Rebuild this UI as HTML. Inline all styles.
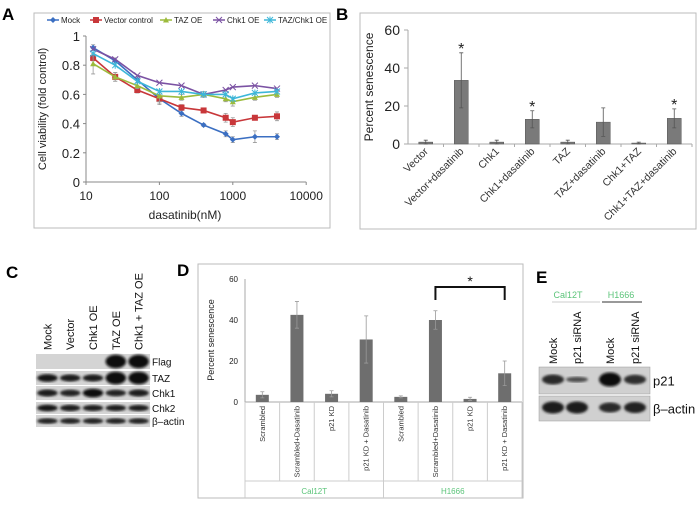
<!DOCTYPE html>
<html><head><meta charset="utf-8"><style>
body{margin:0;background:#fff;}
svg{display:block;font-family:"Liberation Sans",Arial,sans-serif;}
</style></head><body>
<svg id="fig" width="700" height="506" viewBox="0 0 700 506" xmlns="http://www.w3.org/2000/svg">
<defs>
<filter id="blur1"><feGaussianBlur stdDeviation="1.2"/></filter>
</defs>
<text x="2" y="20" font-size="17" font-weight="bold">A</text>
<text x="336" y="20" font-size="17" font-weight="bold">B</text>
<text x="6" y="278" font-size="17" font-weight="bold">C</text>
<text x="177" y="276" font-size="17" font-weight="bold">D</text>
<text x="536" y="283" font-size="17" font-weight="bold">E</text>

<g id="panelA">
<rect x="34" y="13" width="296" height="215" fill="none" stroke="#bbb"/>
<g id="aAxes"></g><g id="aSeries"></g><g id="aLegend"></g>
<text x="185" y="219" font-size="12" text-anchor="middle" fill="#222">dasatinib(nM)</text>
<text transform="translate(46,109) rotate(-90)" font-size="11" text-anchor="middle" fill="#222">Cell viability (fold control)</text>
</g>

<g id="panelB">
<rect x="360" y="13" width="336" height="216" fill="none" stroke="#bbb"/>
<g id="bChart"></g>
<text transform="translate(373,87) rotate(-90)" font-size="12" text-anchor="middle" fill="#222">Percent senescence</text>
</g>

<g id="panelC"></g>

<g id="panelD">
<rect x="198" y="264" width="325" height="234" fill="none" stroke="#bbb"/>
<g id="dChart"></g>
<text transform="translate(214,340) rotate(-90)" font-size="9" text-anchor="middle" fill="#222">Percent senescence</text>
</g>

<g id="panelE"></g>
</svg>
<script>
const NS="http://www.w3.org/2000/svg";
function mk(parent,tag,attrs,text){const e=document.createElementNS(NS,tag);for(const k in attrs)e.setAttribute(k,attrs[k]);if(text!==undefined)e.textContent=text;parent.appendChild(e);return e;}

const doseA=[12.5,25,50,100,200,400,800,1000,2000,4000];
const mockA=[0.92,0.83,0.70,0.57,0.47,0.39,0.33,0.29,0.31,0.31];
const vectorA=[0.85,0.72,0.63,0.57,0.51,0.49,0.44,0.41,0.44,0.45];
const tazA=[0.81,0.72,0.66,0.59,0.58,0.60,0.57,0.55,0.58,0.60];
const chk1A=[0.91,0.84,0.73,0.68,0.66,0.60,0.63,0.65,0.66,0.64];
const tazChk1A=[0.88,0.80,0.69,0.62,0.62,0.60,0.60,0.57,0.61,0.62];
const errMockA=[0.02,0.02,0.02,0.03,0.02,0.01,0.02,0.02,0.04,0.02];
const errVectorA=[0.02,0.03,0.02,0.04,0.02,0.01,0.03,0.03,0.01,0.03];
const errTazA=[0.07,0.03,0.02,0.04,0.02,0.02,0.02,0.03,0.02,0.02];
const yTicksA=[0,0.2,0.4,0.6,0.8,1];
const xTicksA=[10,100,1000,10000];
const seriesNamesA=["Mock","Vector control","TAZ OE","Chk1 OE","TAZ/Chk1 OE"];

(function(){
 const ax=document.getElementById('aAxes'),sg=document.getElementById('aSeries'),lg=document.getElementById('aLegend');
 const X=v=>86+(Math.log10(v)-1)*73.4, Y=v=>182-v*146;
 mk(ax,'line',{x1:86,y1:Y(1),x2:86,y2:182,stroke:'#888'});
 mk(ax,'line',{x1:86,y1:182,x2:X(10000),y2:182,stroke:'#888'});
 yTicksA.forEach(t=>{const l=mk(ax,'text',{x:80,y:Y(t)+5,'font-size':13,'text-anchor':'end',fill:'#222'},String(t));
  
  
  mk(ax,'line',{x1:83,x2:86,y1:Y(t),y2:Y(t),stroke:'#888'});});
 xTicksA.forEach(t=>{const l=mk(ax,'text',{x:X(t),y:200,'font-size':12,'text-anchor':'middle',fill:'#222'},String(t));
  
  
  mk(ax,'line',{x1:X(t),x2:X(t),y1:182,y2:185,stroke:'#888'});});
 const all=[mockA,vectorA,tazA,chk1A,tazChk1A];
 const errs=[errMockA,errVectorA,errTazA,null,null];
 const cols=['#3b6fc2','#c8373a','#9cbb3c','#7b52a3','#3db7d9'];
 const marks=['diamond','square','triangle','x','star'];
 function marker(g,m,x,y,c){
  if(m==='diamond')mk(g,'path',{d:`M${x} ${y-3}L${x+3} ${y}L${x} ${y+3}L${x-3} ${y}Z`,fill:c});
  else if(m==='square')mk(g,'rect',{x:x-3,y:y-3,width:6,height:6,fill:c});
  else if(m==='triangle')mk(g,'path',{d:`M${x} ${y-3}L${x+3} ${y+2.5}L${x-3} ${y+2.5}Z`,fill:c});
  else if(m==='x'){mk(g,'path',{d:`M${x-3} ${y-3}L${x+3} ${y+3}M${x-3} ${y+3}L${x+3} ${y-3}`,stroke:c,'stroke-width':1});}
  else {mk(g,'path',{d:`M${x-3} ${y-3}L${x+3} ${y+3}M${x-3} ${y+3}L${x+3} ${y-3}M${x} ${y-3.5}V${y+3.5}`,stroke:c,'stroke-width':1});}
 }
 all.forEach((s,i)=>{
  const g=mk(sg,'g',{});
  
  
  if(errs[i])errs[i].forEach((e,j)=>{mk(g,'path',{d:`M${X(doseA[j])} ${Y(s[j]-e)}V${Y(s[j]+e)}M${X(doseA[j])-2} ${Y(s[j]-e)}h4M${X(doseA[j])-2} ${Y(s[j]+e)}h4`,stroke:'#999','stroke-width':0.8,fill:'none'});});
  mk(g,'polyline',{points:s.map((v,j)=>X(doseA[j])+','+Y(v)).join(' '),fill:'none',stroke:cols[i],'stroke-width':1.6});
  s.forEach((v,j)=>marker(g,marks[i],X(doseA[j]),Y(v),cols[i]));
 });
 const lx=[47,90,160,213,264];
 seriesNamesA.forEach((n,i)=>{
  const g=mk(lg,'g',{});
  
  
  mk(g,'line',{x1:lx[i],x2:lx[i]+12,y1:20,y2:20,stroke:cols[i],'stroke-width':1.5});
  marker(g,marks[i],lx[i]+6,20,cols[i]);
  mk(g,'text',{x:lx[i]+14,y:23,'font-size':8,fill:'#222'},n);
 });
})();

const catsB=["Vector","Vector+dasatinib","Chk1","Chk1+dasatinib","TAZ","TAZ+dasatinib","Chk1+TAZ","Chk1+TAZ+dasatinib"];
const valsB=[1,33.5,1,13,1,11.5,0.5,13.5];
const errsB=[1,14.5,1,4.5,1,7.5,0.5,5];
const starsB=[false,true,false,true,false,false,false,true];
const yTicksB=[0,20,40,60];
(function(){
 const g=document.getElementById('bChart');
 const x0=408,x1=692,w=(x1-x0)/catsB.length,Y=v=>144-v*1.9;
 mk(g,'line',{x1:x0,y1:Y(60),x2:x0,y2:144,stroke:'#aaa'});
 mk(g,'line',{x1:x0,y1:144,x2:x1,y2:144,stroke:'#aaa'});
 yTicksB.forEach(t=>{const l=mk(g,'text',{x:400,y:Y(t)+5,'font-size':14,'text-anchor':'end',fill:'#222'},String(t));
  
  
  mk(g,'line',{x1:404,x2:x0,y1:Y(t),y2:Y(t),stroke:'#aaa'});});
 catsB.forEach((c,i)=>{
  const cx=x0+w*(i+0.5);
  mk(g,'line',{x1:x0+w*(i+1),x2:x0+w*(i+1),y1:144,y2:147,stroke:'#aaa'});
  const b=mk(g,'rect',{x:cx-7,y:Y(valsB[i]),width:14,height:144-Y(valsB[i]),fill:'#7a7a7a',stroke:'#555','stroke-width':0.5});
  
  
  const e=errsB[i];
  mk(g,'path',{d:`M${cx} ${Y(valsB[i]-e)}V${Y(valsB[i]+e)}M${cx-2} ${Y(valsB[i]+e)}h4M${cx-2} ${Y(valsB[i]-e)}h4`,stroke:'#555','stroke-width':0.8});
  if(starsB[i]){const s=mk(g,'text',{x:cx,y:Y(valsB[i]+e)+1,'font-size':16,'text-anchor':'middle',fill:'#222'},'*');
   
   }
  const t=mk(g,'text',{x:0,y:0,'font-size':10.5,'text-anchor':'end',fill:'#333',transform:`translate(${cx+3},152) rotate(-45)`},c);
  
  
 });
})();

const lanesC=["Mock","Vector","Chk1 OE","TAZ OE","Chk1 + TAZ OE"];
const rowsC=["Flag","TAZ","Chk1","Chk2","β–actin"];
const intensC=[[0,0,0,1,1],[0.7,0.6,0.6,1,1],[0.6,0.5,0.9,0.5,0.6],[0.75,0.65,0.6,0.6,0.6],[0.5,0.5,0.5,0.5,0.5]];
(function(){
 const g=document.getElementById('panelC');
 const x0=36,x1=150,lw=(x1-x0)/lanesC.length;
 const rowY=[[354,369],[371,385],[386,400],[402,414],[415,427]];
 lanesC.forEach((l,i)=>{const t=mk(g,'text',{x:0,y:0,'font-size':11,fill:'#111',transform:`translate(${x0+lw*(i+0.5)+4},350) rotate(-90)`},l);
  
  });
 rowsC.forEach((r,j)=>{
  const [a,b]=rowY[j];
  const row=mk(g,'g',{});
  
  
  mk(row,'rect',{x:x0,y:a,width:x1-x0,height:b-a,fill:'#d4d4d4'});
  intensC[j].forEach((v,i)=>{if(v<=0)return;const cx=x0+lw*(i+0.5),h=(b-a)*(0.3+0.6*v*(v>0.95?1:0.6));
   mk(row,'ellipse',{cx:cx,cy:(a+b)/2,rx:lw*0.45,ry:h/2,fill:`rgb(${Math.round(60-50*v)},${Math.round(60-50*v)},${Math.round(60-50*v)})`,filter:'url(#blur1)'});});
  mk(row,'text',{x:152,y:(a+b)/2+4,'font-size':10,fill:'#111'},r);
 });
})();

const catsD=["Scrambled","Scrambled+Dasatinib","p21 KD","p21 KD + Dasatinib","Scrambled","Scrambled+Dasatinib","p21 KD","p21 KD + Dasatinib"];
const valsD=[3.5,42.5,4,30.5,2.5,40,1.5,14];
const errsD=[1.5,6.5,1.5,11.5,0.5,4.5,0.8,6];
const groupsD=["Cal12T","H1666"];
const yTicksD=[0,20,40,60];
(function(){
 const g=document.getElementById('dChart');
 const x0=245,x1=522,w=(x1-x0)/catsD.length,Y=v=>402-v*2.05;
 mk(g,'line',{x1:x0,y1:Y(60),x2:x0,y2:402,stroke:'#aaa'});
 mk(g,'line',{x1:x0,y1:402,x2:x1,y2:402,stroke:'#aaa'});
 yTicksD.forEach(t=>{const l=mk(g,'text',{x:238,y:Y(t)+3,'font-size':8,'text-anchor':'end',fill:'#222'},String(t));
  
  });
 for(let i=0;i<=catsD.length;i++){const x=x0+w*i;const full=(i%4===0);
  mk(g,'line',{x1:x,x2:x,y1:402,y2:full?498:481,stroke:'#ccc'});}
 mk(g,'line',{x1:x0,x2:x1,y1:481,y2:481,stroke:'#ccc'});
 catsD.forEach((c,i)=>{
  const cx=x0+w*(i+0.5);
  const b=mk(g,'rect',{x:cx-6.5,y:Y(valsD[i]),width:13,height:402-Y(valsD[i]),fill:'#6e6e6e'});
  
  
  const e=errsD[i];
  mk(g,'path',{d:`M${cx} ${Y(valsD[i]-e)}V${Y(valsD[i]+e)}M${cx-2} ${Y(valsD[i]+e)}h4M${cx-2} ${Y(valsD[i]-e)}h4`,stroke:'#999','stroke-width':0.8});
  const t=mk(g,'text',{x:0,y:0,'font-size':7.5,'text-anchor':'end',fill:'#333',transform:`translate(${cx+2.5},406) rotate(-90)`},c);
  
  
 });
 groupsD.forEach((gname,k)=>{const t=mk(g,'text',{x:x0+w*(4*k+2),y:494,'font-size':8,'text-anchor':'middle',fill:'#5cc47a'},gname);
  
  });
 const bx1=x0+w*5.5,bx2=x0+w*7.5,by=287;
 const br=mk(g,'path',{d:`M${bx1} 300V${by}H${bx2}V300`,fill:'none',stroke:'#111','stroke-width':2});
 
 
 mk(g,'text',{x:(bx1+bx2)/2,y:286,'font-size':14,'text-anchor':'middle',fill:'#111'},'*');
})();

const lanesE=["Mock","p21 siRNA","Mock","p21 siRNA"];
const rowsE=["p21","β–actin"];
const intensE=[[0.6,0.15,1,0.55],[0.8,0.8,0.6,0.7]];
(function(){
 const g=document.getElementById('panelE');
 const lx=[553,577,610,635];
 mk(g,'text',{x:568,y:298,'font-size':9,'text-anchor':'middle',fill:'#5cc47a'},'Cal12T');
 mk(g,'line',{x1:552,x2:600,y1:302,y2:302,stroke:'#ccc'});
 mk(g,'text',{x:621,y:298,'font-size':9,'text-anchor':'middle',fill:'#5cc47a'},'H1666');
 mk(g,'line',{x1:602,x2:642,y1:302,y2:302,stroke:'#333'});
 lanesE.forEach((l,i)=>{const t=mk(g,'text',{x:0,y:0,'font-size':11,fill:'#111',transform:`translate(${lx[i]+4},364) rotate(-90)`},l);
  
  });
 const rowY=[[367,394],[396,421]];
 rowsE.forEach((r,j)=>{
  const [a,b]=rowY[j];
  const row=mk(g,'g',{});
  
  
  mk(row,'rect',{x:539,y:a,width:111,height:b-a,fill:'#d0d0d0',stroke:'#999','stroke-width':0.5});
  intensE[j].forEach((v,i)=>{const c=Math.round(90-80*v);
   mk(row,'ellipse',{cx:lx[i],cy:(a+b)/2-1,rx:11,ry:2+5*v,fill:`rgb(${c},${c},${c})`,filter:'url(#blur1)'});});
  mk(row,'text',{x:653,y:(a+b)/2+5,'font-size':13,fill:'#111'},r);
 });
})();
</script>
</body></html>
